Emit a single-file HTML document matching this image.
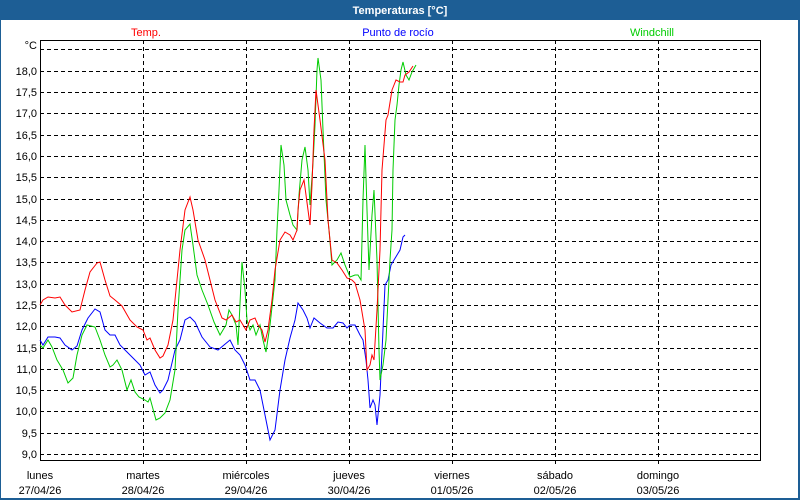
<!DOCTYPE html>
<html><head><meta charset="utf-8"><style>
body{margin:0;width:800px;height:500px;overflow:hidden;background:#fff}
svg{display:block;font-family:"Liberation Sans","DejaVu Sans",sans-serif}
</style></head><body>
<svg width="800" height="500" viewBox="0 0 800 500">
<rect x="0" y="0" width="800" height="500" fill="#1d5e95"/>
<rect x="1" y="20" width="797" height="478" fill="#fff"/>
<text x="400" y="14" fill="#fff" font-size="11" font-weight="bold" text-anchor="middle">Temperaturas [°C]</text>
<text x="146" y="36" fill="#ff0000" font-size="11" text-anchor="middle">Temp.</text>
<text x="398" y="36" fill="#0000ff" font-size="11" text-anchor="middle">Punto de rocío</text>
<text x="652" y="36" fill="#00cc00" font-size="11" text-anchor="middle">Windchill</text>
<g stroke="#000" stroke-dasharray="4,3" stroke-width="1">
<path d="M40 49.5H760M40 71.5H760M40 92.5H760M40 113.5H760M40 135.5H760M40 156.5H760M40 177.5H760M40 199.5H760M40 220.5H760M40 241.5H760M40 262.5H760M40 284.5H760M40 305.5H760M40 326.5H760M40 348.5H760M40 369.5H760M40 390.5H760M40 411.5H760M40 433.5H760M40 454.5H760"/>
<path d="M143.5 40V466M246.5 40V466M349.5 40V466M452.5 40V466M555.5 40V466M658.5 40V466"/>
</g>
<rect x="40.5" y="40.5" width="720" height="420" fill="none" stroke="#000"/>
<g font-size="11" fill="#000" text-anchor="end">
<text x="37" y="49">°C</text>
<text x="37" y="75">18,0</text><text x="37" y="96">17,5</text><text x="37" y="117">17,0</text><text x="37" y="139">16,5</text><text x="37" y="160">16,0</text><text x="37" y="181">15,5</text><text x="37" y="203">15,0</text><text x="37" y="224">14,5</text><text x="37" y="245">14,0</text><text x="37" y="266">13,5</text><text x="37" y="288">13,0</text><text x="37" y="309">12,5</text><text x="37" y="330">12,0</text><text x="37" y="352">11,5</text><text x="37" y="373">11,0</text><text x="37" y="394">10,5</text><text x="37" y="415">10,0</text><text x="37" y="437">9,5</text><text x="37" y="458">9,0</text>
</g>
<g font-size="11" fill="#000" text-anchor="middle">
<text x="40" y="479">lunes</text><text x="40" y="494">27/04/26</text>
<text x="143" y="479">martes</text><text x="143" y="494">28/04/26</text>
<text x="246" y="479">miércoles</text><text x="246" y="494">29/04/26</text>
<text x="349" y="479">jueves</text><text x="349" y="494">30/04/26</text>
<text x="452" y="479">viernes</text><text x="452" y="494">01/05/26</text>
<text x="555" y="479">sábado</text><text x="555" y="494">02/05/26</text>
<text x="658" y="479">domingo</text><text x="658" y="494">03/05/26</text>
</g>
<g fill="none" stroke-width="1">
<polyline stroke="#0000ff" points="40,340 43,345 48,337 55,337 60,338 65,345 72,350 77,346 82,330 88,318 95,309 100,312 105,330 110,335 115,335 120,345 128,353 135,360 140,365 145,375 150,372 155,385 160,393 163,390 168,380 175,350 180,340 185,320 190,317 195,322 202,337 210,347 218,350 224,345 230,340 235,350 240,355 245,365 250,380 255,380 260,390 265,415 270,440 275,430 280,390 285,360 290,338 295,320 298,303 303,310 307,318 310,328 314,318 320,323 327,328 333,328 338,322 343,323 347,328 350,325 355,325 360,335 363,340 366,360 368,380 370,408 373,400 375,405 377,425 380,395 383,330 385,285 388,280 391,265 394,260 397,255 400,250 403,237 405,235"/>
<polyline stroke="#00cc00" points="40,345 43,348 48,340 52,347 57,360 63,370 68,383 73,378 77,355 82,335 87,325 95,327 100,340 105,355 110,367 113,365 117,360 122,370 127,390 131,380 135,392 139,397 145,400 148,402 150,398 156,420 160,418 165,413 170,400 175,370 178,310 182,250 185,230 190,224 193,245 197,275 202,290 208,305 214,322 220,335 226,325 229,310 232,315 236,325 238,345 242,262 245,290 247,320 250,330 253,325 256,335 260,325 263,340 266,352 270,325 275,280 277,230 279,190 281,145 284,165 286,200 290,215 293,225 297,230 299,195 302,160 305,147 308,170 310,205 313,163 315,125 317,70 318,58 321,80 323,130 326,200 329,230 332,265 337,260 341,253 345,265 350,277 355,275 358,275 361,280 363,200 365,145 367,210 369,270 372,215 374,190 377,260 379,350 380,380 383,365 386,340 388,300 390,260 392,230 393,170 395,120 397,105 399,85 401,70 403,62 406,75 409,80 412,72 416,65"/>
<polyline stroke="#ff0000" points="40,305 43,300 48,297 55,298 60,297 65,305 72,312 80,310 85,290 90,272 97,263 100,262 105,280 110,296 115,300 122,306 130,320 137,327 143,330 147,340 150,338 155,350 160,358 163,356 168,345 173,320 176,290 180,250 185,210 190,197 193,210 198,240 205,260 210,280 215,300 222,318 226,320 232,315 236,322 240,320 246,330 250,320 255,318 258,325 262,330 265,342 268,330 272,300 275,270 280,240 285,232 290,235 293,240 297,230 298,210 300,190 304,180 308,210 310,225 312,185 314,130 316,90 320,120 325,160 328,220 332,260 337,263 342,270 347,278 352,280 355,283 360,300 365,330 367,370 370,365 372,355 374,360 377,310 380,250 382,170 386,120 388,115 392,90 394,85 396,80 400,82 403,82 405,75 409,72 413,66"/>
</g>
</svg>
</body></html>
